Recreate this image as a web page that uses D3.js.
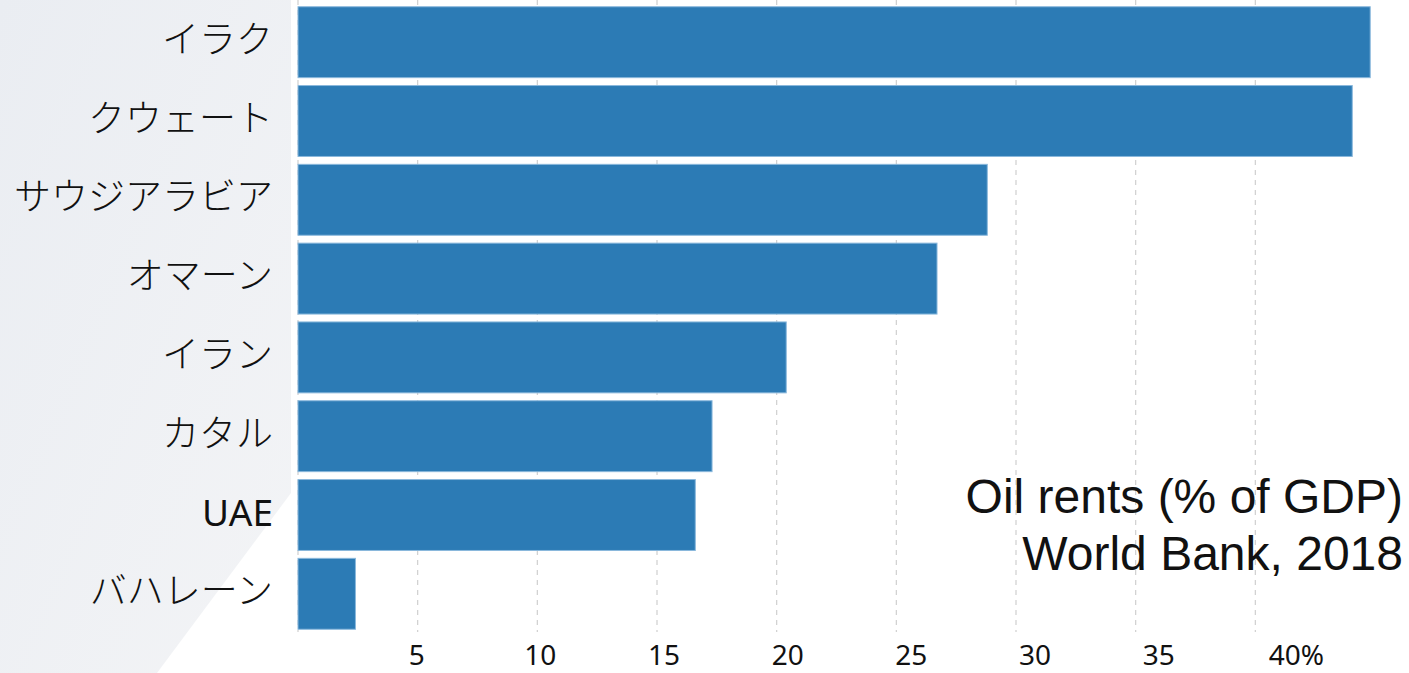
<!doctype html>
<html>
<head>
    <meta charset="utf-8">
    <script src="https://d3js.org/d3.v7.min.js"></script>
    <style>
        body {
            margin: 0;
            background-color: white;
        }
        .cat {
            font-family: "Noto Sans", "Noto Sans CJK JP", sans-serif;
            font-size: 37px;
            font-weight: 300;
            fill: #111;
        }
        .tick-label {
            font-family: "Noto Sans", "Open Sans", sans-serif;
            font-size: 28px;
            fill: #111;
        }
        .note {
            font-family: "Liberation Sans", Arial, sans-serif;
            font-size: 48px;
            fill: #111;
        }
    </style>
</head>
<body>
<div id="my_dataviz"></div>
<script>

// data
var countries = ["イラク", "クウェート", "サウジアラビア", "オマーン", "イラン", "カタル", "UAE", "バハレーン"]
var rents = [44.8, 44.05, 28.8, 26.7, 20.4, 17.3, 16.6, 2.4]
var tickValues = [5, 10, 15, 20, 25, 30, 35, 40]
var tickLabels = ["5", "10", "15", "20", "25", "30", "35", "40%"]
var noteLines = ["Oil rents (% of GDP)", "World Bank, 2018"]

var width = 1409
    height = 673

var svg = d3.select("#my_dataviz")
  .append("svg")
    .attr("width", width)
    .attr("height", height)

// grey panel on the left with a diagonal cut at the bottom
var grad = svg.append("defs").append("linearGradient")
    .attr("id", "panel")
    .attr("x1", "0").attr("y1", "0")
    .attr("x2", "1").attr("y2", "1")
grad.append("stop").attr("offset", "0%").attr("stop-color", "#eaedf2")
grad.append("stop").attr("offset", "100%").attr("stop-color", "#f3f4f6")

svg.append("path")
    .attr("d", "M0,0 L291,0 L291,493 L157,673 L0,673 Z")
    .attr("fill", "url(#panel)")

// scales
var x = d3.scaleLinear()
    .domain([0, 45])
    .range([298, 1375])

// labels sit on a slightly wider scale than the grid
var xLabel = d3.scaleLinear()
    .domain([0, 45])
    .range([293, 1406])

var y = d3.scaleBand()
    .domain(countries)
    .range([2.8, 633.2])
    .paddingInner(0.1)
    .paddingOuter(0.05)

// dashed grid
svg.append("g")
  .selectAll("line")
  .data([0].concat(tickValues))
  .enter()
  .append("line")
    .attr("x1", function(d){ return x(d) })
    .attr("x2", function(d){ return x(d) })
    .attr("y1", 0)
    .attr("y2", 632)
    .attr("stroke", "#cfcfcf")
    .attr("stroke-width", 1.2)
    .attr("stroke-dasharray", "5,5")

// bars
svg.append("g")
  .selectAll("rect")
  .data(countries)
  .enter()
  .append("rect")
    .attr("x", x(0))
    .attr("y", function(d){ return y(d) })
    .attr("width", function(d, i){ return x(rents[i]) - x(0) })
    .attr("height", y.bandwidth())
    .attr("fill", "#2c7bb5")
    .attr("stroke", "#8ab8dc")
    .attr("stroke-width", 1)

// category labels (latin names in regular weight)
svg.append("g")
  .selectAll("text")
  .data(countries)
  .enter()
  .append("text")
    .attr("class", "cat")
    .attr("x", 273)
    .attr("y", function(d){ return y(d) + y.bandwidth() / 2 - 4 })
    .attr("dominant-baseline", "central")
    .attr("text-anchor", "end")
    .style("font-weight", function(d){ return /^[A-Za-z]+$/.test(d) ? 400 : 300 })
    .text(function(d){ return d })

// x tick labels
svg.append("g")
  .selectAll("text")
  .data(tickValues)
  .enter()
  .append("text")
    .attr("class", "tick-label")
    .attr("x", function(d){ return xLabel(d) })
    .attr("y", 665)
    .attr("dx", function(d, i){ return i == tickValues.length - 1 ? 14 : 0 })
    .attr("text-anchor", "middle")
    .text(function(d, i){ return tickLabels[i] })

// annotation
svg.append("g")
  .selectAll("text")
  .data(noteLines)
  .enter()
  .append("text")
    .attr("class", "note")
    .attr("x", 1403)
    .attr("y", function(d, i){ return 513 + i * 57 })
    .attr("text-anchor", "end")
    .text(function(d){ return d })

</script>
</body>
</html>
